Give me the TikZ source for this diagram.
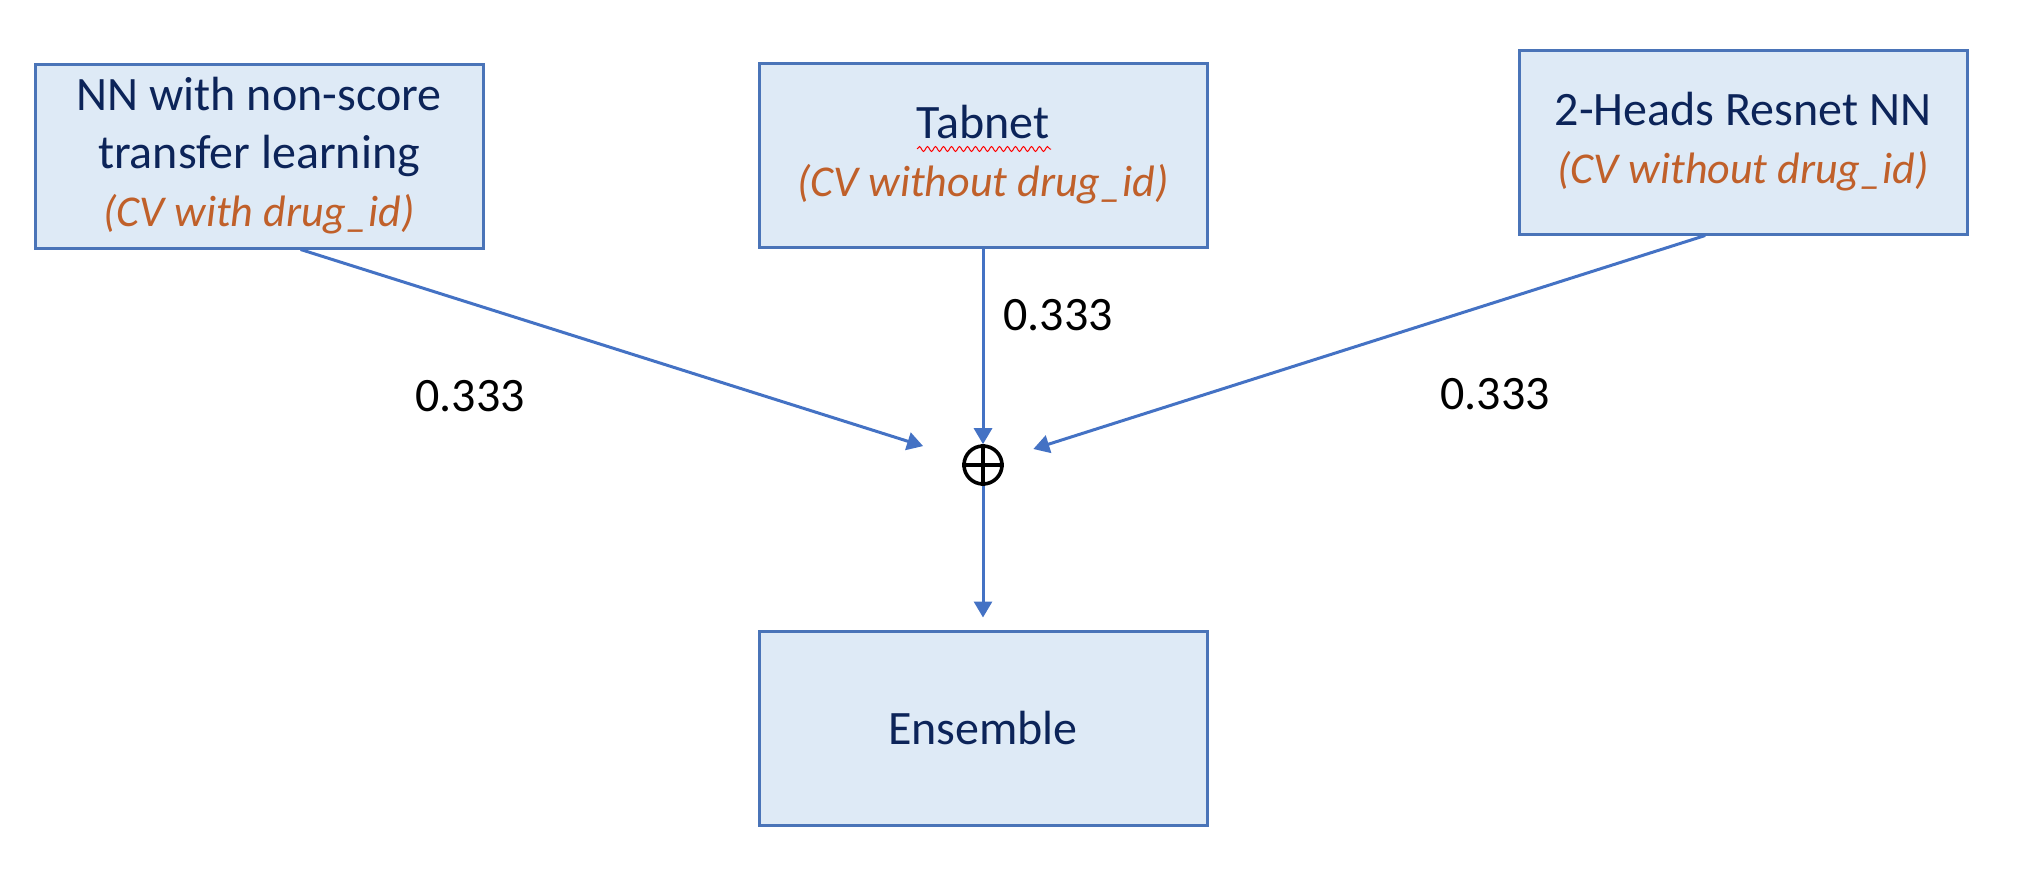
\documentclass[tikz,border=0pt]{standalone}
\usepackage{fontspec}
\setmainfont{Carlito}
\usepackage{tikz}
\usetikzlibrary{arrows.meta,decorations.pathmorphing}
\definecolor{boxfill}{HTML}{DEEAF6}
\definecolor{boxline}{HTML}{4A74B8}
\definecolor{flowblue}{HTML}{4472C4}
\definecolor{navy}{HTML}{0C2459}
\definecolor{cvorange}{HTML}{C0602A}
\newcommand{\cvnote}[1]{{\color{cvorange}\fontsize{22}{29}\selectfont\itshape #1}}

\begin{document}
\begin{tikzpicture}[x=0.5pt, y=-0.5pt,
	model/.style={draw=boxline, fill=boxfill, line width=1.5pt, minimum width=224pt, minimum height=92pt, align=center, text=navy, font=\fontsize{24}{29}\selectfont},
	weight/.style={font=\fontsize{24}{29}\selectfont},
	summer/.style={circle, draw=black, line width=1.8pt, minimum size=19pt, inner sep=0pt},
	flow/.style={draw=flowblue, line width=1.5pt, -{Triangle[length=8pt,width=9pt]}}]
\useasboundingbox (0,0) rectangle (2018,878);
\node[model] (nn) at (259,156) {NN with non-score\\transfer learning\\\cvnote{(CV with drug\_id)}};
\node[model] (tab) at (983,155) {Tabnet\\\cvnote{(CV without drug\_id)}};
\node[model] (res) at (1743,142) {2-Heads Resnet NN\\\cvnote{(CV without drug\_id)}};
\node[model, minimum height=97pt] (ens) at (983,728) {Ensemble};
\node[summer] (sum) at (983,465) {};
\draw[line width=1.8pt] (sum.north) -- (sum.south) (sum.west) -- (sum.east);
\draw[red, line width=0.5pt, decorate, decoration={snake, amplitude=1.2pt, segment length=4pt}] (917,149) -- (1051,149);
\draw[flow, shorten >=21pt] (nn.-66) -- (sum);
\draw[flow] (tab) -- (sum);
\draw[flow, shorten >=16pt] (res.-112) -- (sum);
\draw[flow, shorten >=6pt] (sum) -- (ens);
\node[weight] (w1) at (470,396) {0.333};
\node[weight] (w2) at (1058,315) {0.333};
\node[weight] (w3) at (1495,394) {0.333};
\end{tikzpicture}
\end{document}
